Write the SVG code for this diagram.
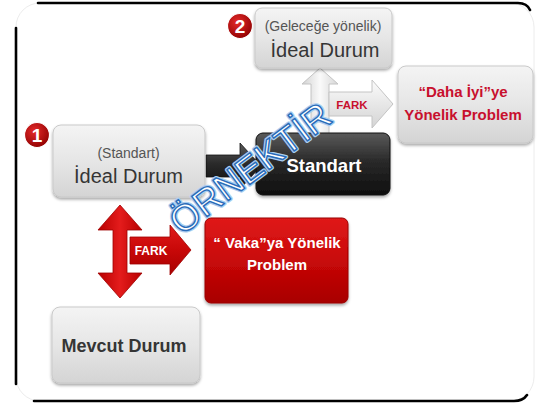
<svg xmlns="http://www.w3.org/2000/svg" width="539" height="407" viewBox="0 0 539 407">
  <defs>
    <linearGradient id="gLight" x1="0" y1="0" x2="0" y2="1">
      <stop offset="0" stop-color="#f4f4f4"/>
      <stop offset="0.5" stop-color="#e6e6e6"/>
      <stop offset="1" stop-color="#d4d4d4"/>
    </linearGradient>
    <linearGradient id="gDark" x1="0" y1="0" x2="0" y2="1">
      <stop offset="0" stop-color="#5a5a5a"/>
      <stop offset="0.45" stop-color="#2a2a2a"/>
      <stop offset="1" stop-color="#0e0e0e"/>
    </linearGradient>
    <linearGradient id="gRed" x1="0" y1="0" x2="0" y2="1">
      <stop offset="0" stop-color="#e01a1a"/>
      <stop offset="0.5" stop-color="#c80808"/>
      <stop offset="1" stop-color="#a80000"/>
    </linearGradient>
    <linearGradient id="gRedH" x1="0" y1="0" x2="1" y2="0">
      <stop offset="0" stop-color="#b80000"/>
      <stop offset="0.5" stop-color="#e41c1c"/>
      <stop offset="1" stop-color="#b80000"/>
    </linearGradient>
    <linearGradient id="gGrayArrow" x1="0" y1="0" x2="1" y2="0">
      <stop offset="0" stop-color="#d2d2d2"/>
      <stop offset="0.5" stop-color="#fafafa"/>
      <stop offset="1" stop-color="#d6d6d6"/>
    </linearGradient>
    <linearGradient id="gGrayArrowV" x1="0" y1="0" x2="0" y2="1">
      <stop offset="0" stop-color="#fbfbfb"/>
      <stop offset="1" stop-color="#d4d4d4"/>
    </linearGradient>
    <radialGradient id="gBadge" cx="0.4" cy="0.35" r="0.7">
      <stop offset="0" stop-color="#e52a2a"/>
      <stop offset="1" stop-color="#8e0000"/>
    </radialGradient>
    <filter id="shadow" x="-10%" y="-10%" width="120%" height="130%">
      <feDropShadow dx="0" dy="2" stdDeviation="1.6" flood-color="#000" flood-opacity="0.35"/>
    </filter>
    <style>
      text { font-family: "Liberation Sans", Arial, sans-serif; }
      .boxLight { fill: url(#gLight); stroke: #c9c9c9; stroke-width: 1; filter: url(#shadow); }
      .boxDark { fill: url(#gDark); stroke: #111; stroke-width: 1; filter: url(#shadow); }
      .boxRed { fill: url(#gRed); stroke: #9a0000; stroke-width: 1; filter: url(#shadow); }
      .paren { font-size: 14px; fill: #555; text-anchor: middle; }
      .title { font-size: 20px; fill: #353535; text-anchor: middle; }
      .badge { fill: url(#gBadge); stroke: #fff; stroke-width: 1.2; }
      .badgeNum { font-size: 19px; font-weight: bold; fill: #fff; text-anchor: middle; }
      .frame { fill: none; stroke: #000; stroke-width: 2.6; stroke-linecap: round; }
    </style>
  </defs>

  <!-- page background and frame -->
  <rect x="0" y="0" width="539" height="407" fill="#fff"/>
  <rect x="16" y="3" width="518" height="398" rx="24" fill="#fff" stroke="#ececec" stroke-width="1"/>
  <path class="frame" d="M38,3 H518 Q527,3 530,10"/>
  <path class="frame" d="M16,28 V384"/>
  <path class="frame" d="M34,401 H514 Q523,401 527,395"/>

  <!-- connectors -->
  <g id="connectors">
    <!-- black arrow: ideal state to standard -->
    <path d="M206,155 H240 V143 L261,166 L240,189 V177 H206 Z" fill="url(#gDark)" stroke="#111" stroke-width="0.8"/>
    <!-- grey arrow: standard up to future ideal -->
    <path d="M311,135 V84 H302 L320,68 L338,84 H329 V135 Z" fill="url(#gGrayArrow)" stroke="#c4c4c4" stroke-width="1"/>
    <!-- grey FARK arrow -->
    <path d="M329,92 H372 V80 L393,104 L372,128 V116 H329 Z" fill="url(#gGrayArrowV)" stroke="#c4c4c4" stroke-width="1"/>
    <text x="352" y="108.5" font-size="11.5" font-weight="bold" fill="#c8102e" text-anchor="middle">FARK</text>
    <!-- red double arrow: ideal vs current -->
    <path d="M120,205 L142,230 H127 V273 H142 L120,298 L98,273 H113 V230 H98 Z" fill="url(#gRedH)" stroke="#a00000" stroke-width="0.8"/>
    <!-- red FARK arrow -->
    <path d="M130,237 H170 V225 L191,250 L170,275 V264 H130 Z" fill="url(#gRed)" stroke="#a00000" stroke-width="0.8"/>
    <text x="151" y="255" font-size="12" font-weight="bold" fill="#fff" text-anchor="middle">FARK</text>
  </g>

  <!-- node 1: ideal state (standard) -->
  <g id="ideal-standard">
    <circle class="badge" cx="37" cy="135" r="12.5"/>
    <text class="badgeNum" x="37" y="142">1</text>
    <rect class="boxLight" x="53" y="125" width="152" height="72" rx="8"/>
    <text class="paren" x="128.5" y="158">(Standart)</text>
    <text class="title" x="128.5" y="183">İdeal Durum</text>
  </g>

  <!-- node 2: future ideal state -->
  <g id="ideal-future">
    <circle class="badge" cx="240" cy="26" r="12.5"/>
    <text class="badgeNum" x="240" y="33">2</text>
    <rect class="boxLight" x="255" y="8" width="137" height="60" rx="7"/>
    <text class="paren" x="323" y="31">(Geleceğe yönelik)</text>
    <text class="title" x="325" y="57">İdeal Durum</text>
  </g>

  <!-- node: standard -->
  <g id="standard">
    <rect class="boxDark" x="256" y="133" width="134" height="62" rx="7"/>
    <text x="324" y="172" font-size="18.5" font-weight="bold" fill="#fff" text-anchor="middle">Standart</text>
  </g>

  <!-- node: "better" problem -->
  <g id="problem-better">
    <rect class="boxLight" x="398" y="66" width="135" height="77" rx="8"/>
    <text x="463" y="97" font-size="15" font-weight="bold" fill="#c8102e" text-anchor="middle">“Daha İyi”ye</text>
    <text x="463" y="120" font-size="15" font-weight="bold" fill="#c8102e" text-anchor="middle">Yönelik Problem</text>
  </g>

  <!-- node: case problem -->
  <g id="problem-case">
    <rect class="boxRed" x="205" y="218" width="143" height="85" rx="6"/>
    <text x="277" y="248" font-size="15" font-weight="bold" fill="#fff" text-anchor="middle">“ Vaka”ya Yönelik</text>
    <text x="277" y="270" font-size="15" font-weight="bold" fill="#fff" text-anchor="middle">Problem</text>
  </g>

  <!-- node: current state -->
  <g id="current-state">
    <rect class="boxLight" x="52" y="307" width="148" height="76" rx="8"/>
    <text x="124" y="352" font-size="18" font-weight="bold" fill="#353535" text-anchor="middle">Mevcut Durum</text>
  </g>

  <!-- watermark -->
  <g id="watermark" transform="translate(250,168) rotate(-37)">
    <text x="0" y="13" font-size="37" text-anchor="middle" fill="none" stroke="#a9cdf0" stroke-width="4" stroke-linejoin="round">ÖRNEKTİR</text>
    <text x="0" y="13" font-size="37" text-anchor="middle" fill="#fff" stroke="#2a6cb9" stroke-width="1.4" stroke-linejoin="round">ÖRNEKTİR</text>
  </g>
</svg>
